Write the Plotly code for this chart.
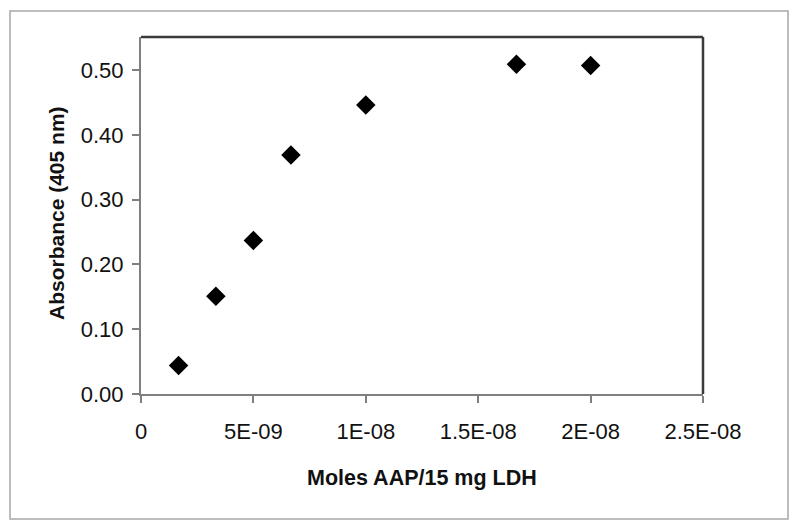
import plotly.graph_objects as go

moles = [1.67e-09, 3.33e-09, 5.0e-09, 6.67e-09, 1.0e-08, 1.67e-08, 2.0e-08]
absorbance = [0.044, 0.151, 0.237, 0.369, 0.446, 0.509, 0.507]

x_ticks = [0, 5e-09, 1e-08, 1.5e-08, 2e-08, 2.5e-08]
x_labels = ["0", "5E-09", "1E-08", "1.5E-08", "2E-08", "2.5E-08"]
y_ticks = [0.0, 0.1, 0.2, 0.3, 0.4, 0.5]
y_labels = ["0.00", "0.10", "0.20", "0.30", "0.40", "0.50"]

# the page body has an 8px margin, so the figure starts at (8, 8)
OFF = 8
W, H = 792, 520
PL, PR, PT, PB = 141, 703, 37, 394   # plot area in page pixels
L, T = PL - OFF, PT - OFF
R = W - (PR - OFF)
B = H - (PB - OFF)
pw, ph = PR - PL, PB - PT

FONT = "Liberation Sans, Arial, sans-serif"

fig = go.Figure()
fig.add_trace(go.Scatter(
    x=moles, y=absorbance, mode="markers",
    marker=dict(symbol="diamond", size=15, color="black", line=dict(width=0)),
    showlegend=False,
))

fig.update_layout(
    width=W, height=H,
    margin=dict(l=L, r=R, t=T, b=B, pad=0),
    paper_bgcolor="white", plot_bgcolor="white",
    font=dict(family=FONT, size=22, color="#111111"),
    xaxis=dict(
        range=[0, 2.5e-08], tickvals=x_ticks, ticktext=x_labels,
        showgrid=False, zeroline=False, showline=True, linecolor="#808080", linewidth=2,
        ticks="outside", ticklen=7, tickwidth=1.5, tickcolor="#808080",
        tickfont=dict(size=22), ticklabelstandoff=10, fixedrange=True,
    ),
    yaxis=dict(
        range=[0, 0.551], tickvals=y_ticks, ticktext=y_labels,
        showgrid=False, zeroline=False, showline=True, linecolor="#808080", linewidth=2,
        ticks="outside", ticklen=7, tickwidth=1.5, tickcolor="#808080",
        tickfont=dict(size=22), ticklabelstandoff=4, fixedrange=True,
    ),
)

# top and right plot-area border (darker)
fig.add_shape(type="line", xref="paper", yref="paper", x0=0, x1=1, y0=1, y1=1,
              line=dict(color="#3a3a3a", width=2.5))
fig.add_shape(type="line", xref="paper", yref="paper", x0=1, x1=1, y0=0, y1=1,
              line=dict(color="#3a3a3a", width=2.5))


def px_x(p):
    return (p - PL) / pw


def px_y(p):
    return (PB - p) / ph


# outer chart border
fig.add_shape(type="rect", xref="paper", yref="paper",
              x0=px_x(10), x1=px_x(788), y0=px_y(519), y1=px_y(11),
              line=dict(color="#a8a8a8", width=1.5), layer="below")

# axis titles
fig.add_annotation(text="<b>Moles AAP/15 mg LDH</b>", xref="paper", yref="paper",
                   x=px_x(422), y=px_y(478), showarrow=False,
                   font=dict(size=21.5, family=FONT, color="#111111"),
                   xanchor="center", yanchor="middle")
fig.add_annotation(text="<b>Absorbance (405 nm)</b>", xref="paper", yref="paper",
                   x=px_x(56), y=px_y(213), showarrow=False, textangle=-90,
                   font=dict(size=21, family=FONT, color="#111111"),
                   xanchor="center", yanchor="middle")

fig.write_html("out.html")
